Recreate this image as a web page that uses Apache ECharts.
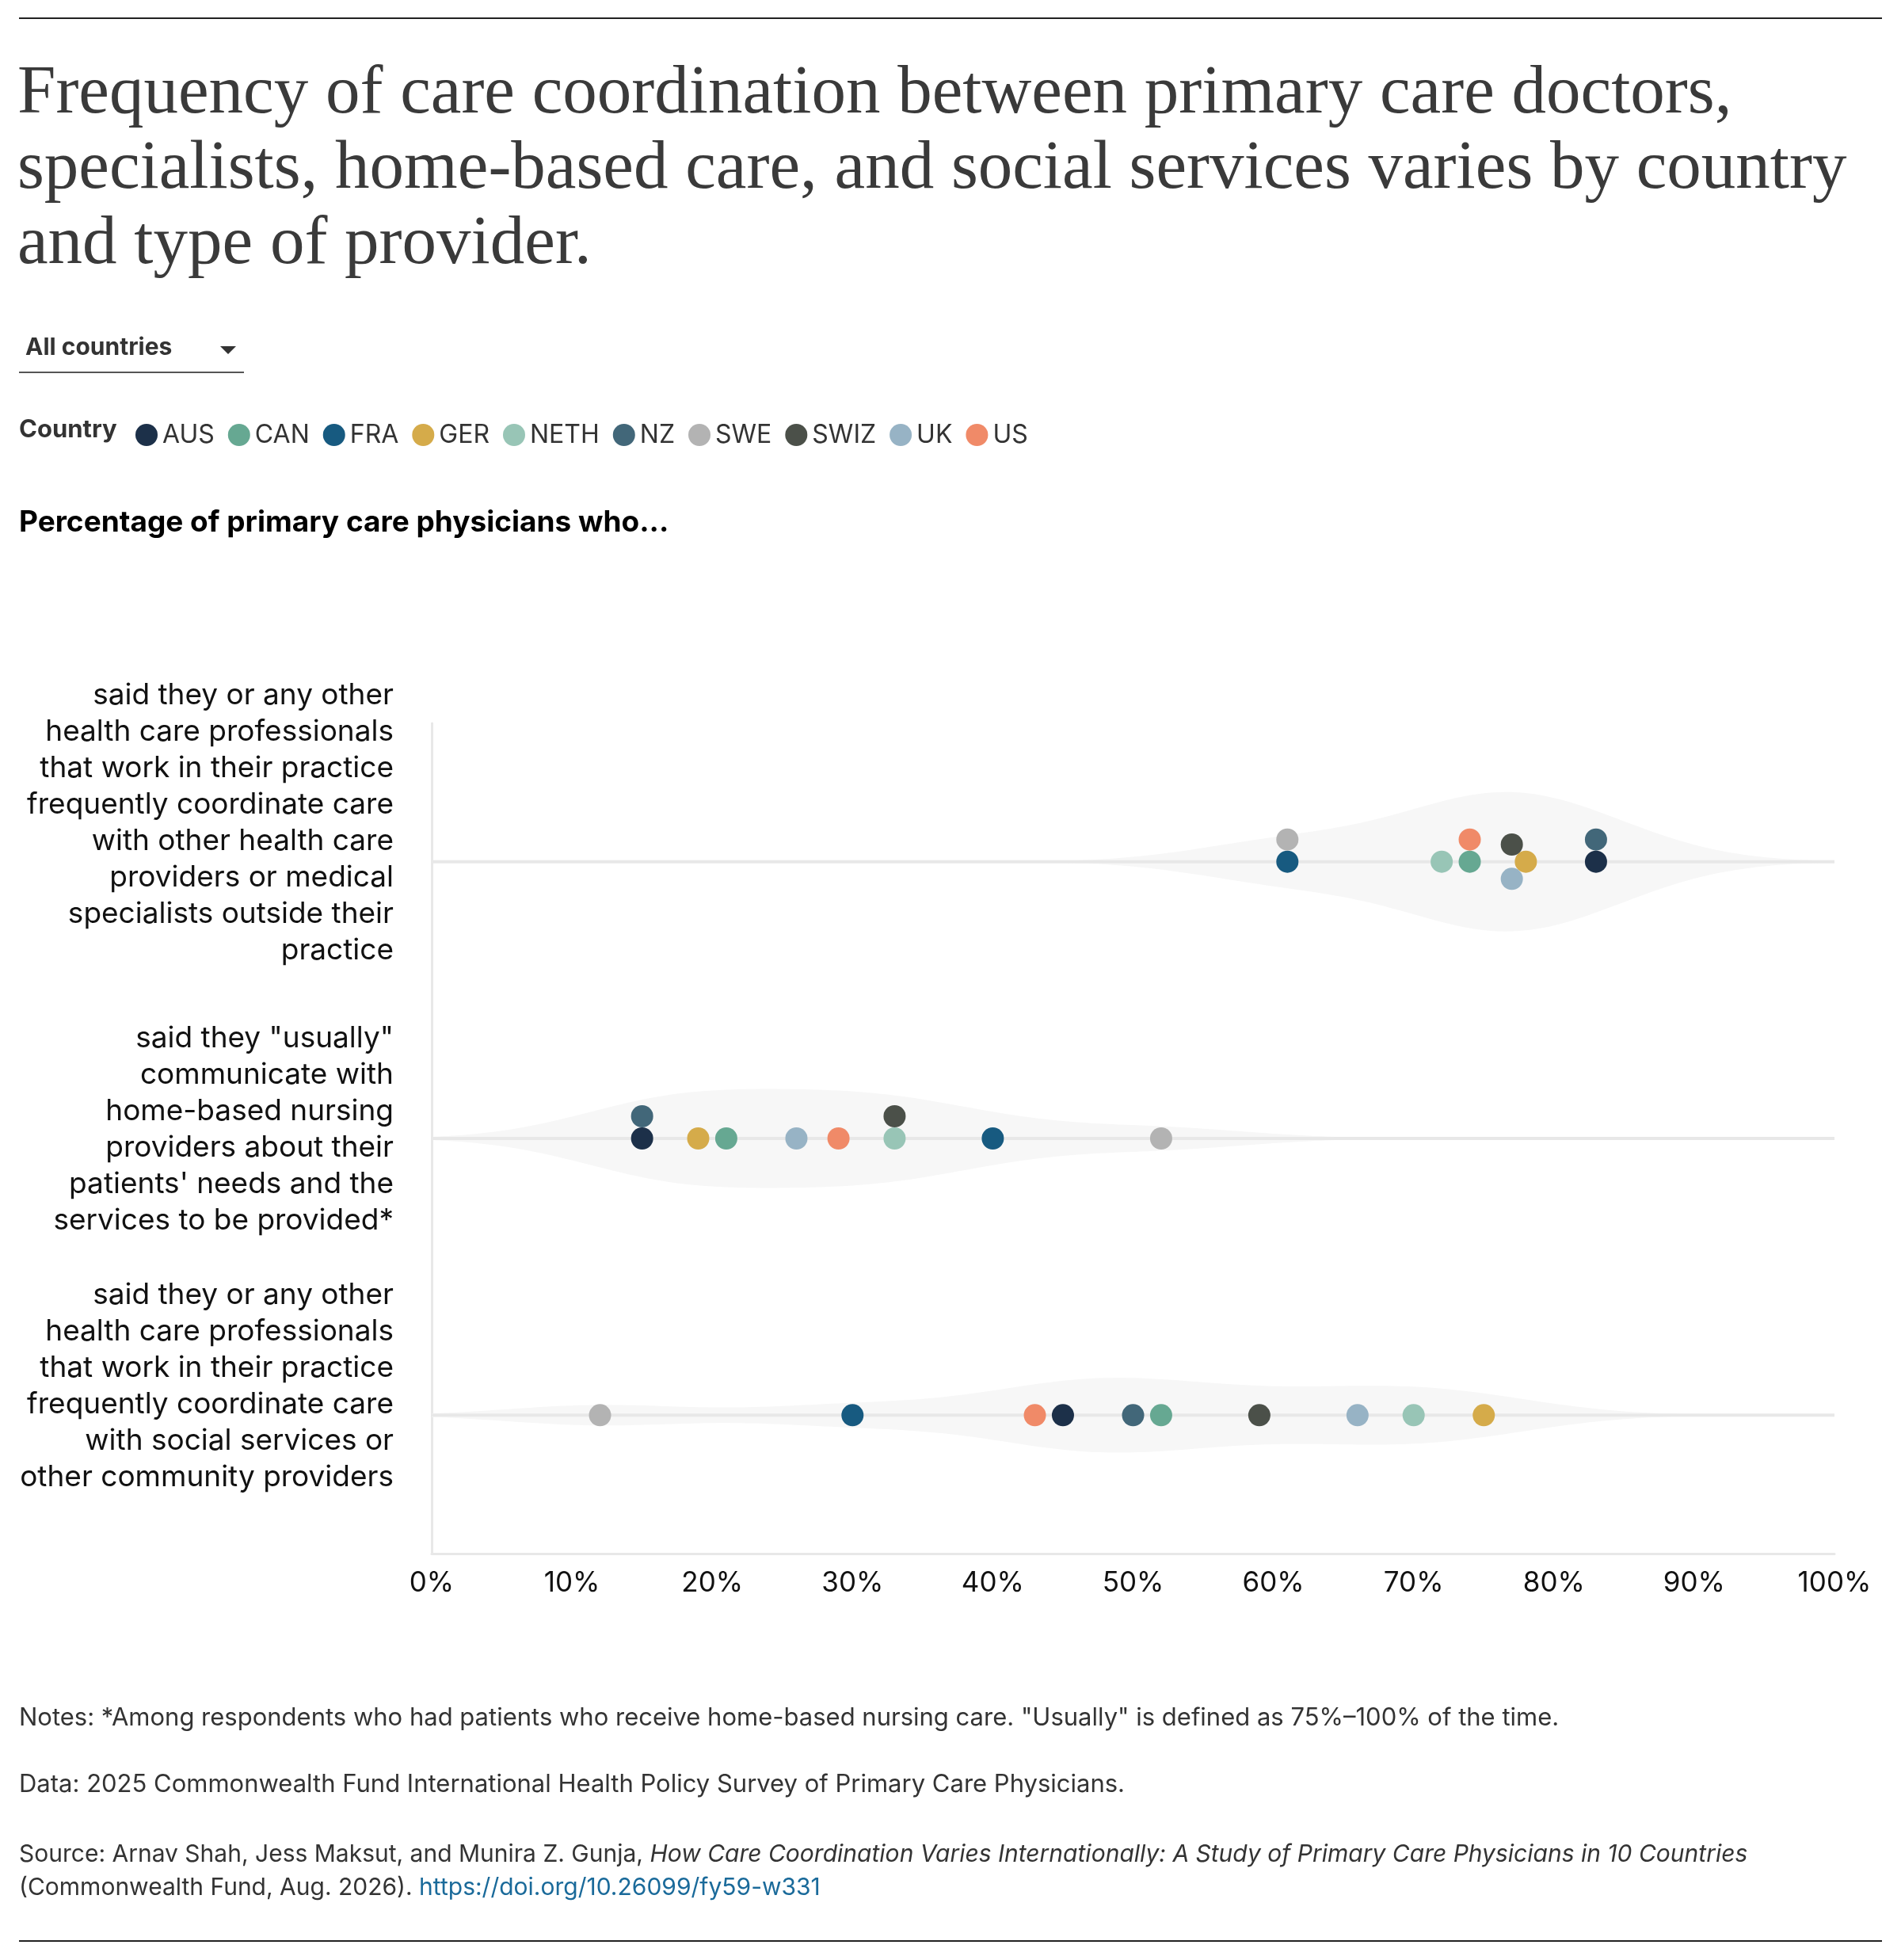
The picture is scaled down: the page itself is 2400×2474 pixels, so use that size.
<!DOCTYPE html>
<html><head><meta charset="utf-8">
<script src="https://cdn.jsdelivr.net/npm/echarts@6/dist/echarts.min.js"></script>
<style>html,body{margin:0;padding:0;background:#fff}#c{width:2400px;height:2474px}</style>
</head><body><div id="c"></div>
<script>
const countries = ['AUS','CAN','FRA','GER','NETH','NZ','SWE','SWIZ','UK','US'];
const colors = ['#1c3049','#66a892','#175a80','#d5ab4a','#98c5b6','#426779','#b3b3b3','#4b5049','#97b3c5','#f08a68'];
const rowLabels = [
 'said they or any other\nhealth care professionals\nthat work in their practice\nfrequently coordinate care\nwith other health care\nproviders or medical\nspecialists outside their\npractice',
 'said they "usually"\ncommunicate with\nhome-based nursing\nproviders about their\npatients\' needs and the\nservices to be provided*',
 'said they or any other\nhealth care professionals\nthat work in their practice\nfrequently coordinate care\nwith social services or\nother community providers'
];
// values per row, in country order
const row1 = [83,74,61,78,72,83,61,77,77,74];
const row2 = [15,21,40,19,33,15,52,33,26,29];
const row3 = [45,52,30,75,70,50,12,59,66,43];
const xTicks = ['0%','10%','20%','30%','40%','50%','60%','70%','80%','90%','100%'];
const rows = [row1,row2,row3];

const W=2400, gridL=545, gridR=84, gridT=913, gridH=1048;
const pxPer = (W-gridL-gridR)/100, R=14;
function swarm(vals){
  const placed=[]; const off=[];
  vals.forEach((v,i)=>{
    const x=v*pxPer; let cands=[0];
    placed.forEach(p=>{const dx=Math.abs(p.x-x); if(dx<2*R){const dy=Math.sqrt(4*R*R-dx*dx); cands.push(p.y-dy,p.y+dy);}});
    cands.sort((a,b)=>Math.abs(a)-Math.abs(b)||a-b);
    let y=0;
    for(const c of cands){ if(placed.every(p=>Math.hypot(p.x-x,p.y-c)>=2*R-0.01)){y=c;break;} }
    placed.push({x,y}); off.push(y);
  });
  return off;
}
const offsets = rows.map(swarm);
const h=6.5;
function kde(vals){
  const lo=Math.max(0,Math.min(...vals)-3*h), hi=Math.min(100,Math.max(...vals)+3*h);
  const pts=[]; for(let x=lo;x<=hi+1e-9;x+=0.5){let s=0;vals.forEach(v=>s+=Math.exp(-(x-v)*(x-v)/(2*h*h)));pts.push([x,s]);}
  return pts;
}
const dens = rows.map(kde);
const gmax = Math.max(...dens.map(d=>Math.max(...d.map(p=>p[1]))));
const maxHalf=88;

const series=[{
  type:'custom', silent:true, z:1,
  data: rows.map((r,i)=>[i]),
  renderItem:(params,api)=>{
    const i=api.value(0);
    const c0=api.coord([0,i]), c1=api.coord([100,i]);
    const top=[], bot=[];
    dens[i].forEach(p=>{const c=api.coord([p[0],i]); const hh=p[1]/gmax*maxHalf; top.push([c[0],c[1]-hh]); bot.unshift([c[0],c[1]+hh]);});
    return {type:'group',children:[
      {type:'polygon',shape:{points:top.concat(bot)},style:{fill:'#f7f7f7'}},
      {type:'line',shape:{x1:c0[0],y1:c0[1],x2:c1[0],y2:c1[1]},style:{stroke:'#e8e8e8',lineWidth:4}}
    ]};
  }
}];
countries.forEach((c,ci)=>{
  series.push({type:'scatter',name:c,z:3,symbolSize:28,itemStyle:{color:colors[ci],opacity:1},
    data: rows.map((r,ri)=>({value:[r[ci],ri],symbolOffset:[0,offsets[ri][ci]]}))});
});

const F='Inter, "Noto Sans", sans-serif';
const graphics=[
 {type:'rect',shape:{x:24,y:22,width:2352,height:2},style:{fill:'#222'}},
 {type:'rect',shape:{x:24,y:2449,width:2352,height:2},style:{fill:'#222'}},
 {type:'text',x:22,y:72,style:{text:'Frequency of care coordination between primary care doctors,\nspecialists, home-based care, and social services varies by country\nand type of provider.',font:'87px "Liberation Serif", serif',lineHeight:95,fill:'#3a3a3a'}},
 {type:'text',x:32,y:424,style:{text:'All countries',font:'bold 30px '+F,fill:'#333'}},
 {type:'polygon',shape:{points:[[278,437],[298,437],[288,447]]},style:{fill:'#333'}},
 {type:'rect',shape:{x:24,y:469,width:284,height:2},style:{fill:'#555'}},
 {type:'text',x:24,y:527,style:{text:'Country',font:'bold 31px '+F,fill:'#333'}},
 {type:'text',x:24,y:641,style:{text:'Percentage of primary care physicians who...',font:'bold 37px '+F,fill:'#000'}},
 {type:'text',x:24,y:2153,style:{text:'Notes: *Among respondents who had patients who receive home-based nursing care. "Usually" is defined as 75%–100% of the time.',font:'31px '+F,fill:'#333'}},
 {type:'text',x:24,y:2237,style:{text:'Data: 2025 Commonwealth Fund International Health Policy Survey of Primary Care Physicians.',font:'31px '+F,fill:'#333'}},
 {type:'text',x:24,y:2320,style:{text:'{n|Source: Arnav Shah, Jess Maksut, and Munira Z. Gunja, }{i|How Care Coordination Varies Internationally: A Study of Primary Care Physicians in 10 Countries}\n{n|(Commonwealth Fund, Aug. 2026). }{l|https://doi.org/10.26099/fy59-w331}',
   lineHeight:42,rich:{n:{font:'30px '+F,fill:'#333',lineHeight:42},i:{font:'italic 30px '+F,fill:'#333',lineHeight:42},l:{font:'30px '+F,fill:'#1a6a9a',lineHeight:42}}}}
];
const labelCenters=[1039,1426,1750];
rowLabels.forEach((t,i)=>{
  const n=t.split('\n').length;
  graphics.push({type:'text',x:497,y:labelCenters[i]-n*46/2,style:{text:t,font:'37px '+F,fill:'#111',lineHeight:46,align:'right',verticalAlign:'top'}});
});

const chart=echarts.init(document.getElementById('c'));
chart.setOption({
  animation:false,
  grid:{left:gridL,right:gridR,top:gridT,height:gridH},
  legend:{left:166,top:528,itemWidth:28,itemHeight:28,itemGap:17,icon:'circle',data:countries,
    textStyle:{fontFamily:F,fontSize:32,color:'#333',padding:[0,0,0,1]}},
  xAxis:{type:'value',min:0,max:100,interval:10,
    axisLine:{show:true,lineStyle:{color:'#e8e8e8',width:3}},axisTick:{show:false},splitLine:{show:false},
    axisLabel:{formatter:(v)=>xTicks[Math.round(v/10)],fontFamily:F,fontSize:35,color:'#111',margin:20}},
  yAxis:{type:'category',data:rowLabels,inverse:true,boundaryGap:true,
    axisLine:{show:true,lineStyle:{color:'#e8e8e8',width:3}},axisTick:{show:false},axisLabel:{show:false},splitLine:{show:false}},
  graphic:graphics,
  series:series
});
</script></body></html>
